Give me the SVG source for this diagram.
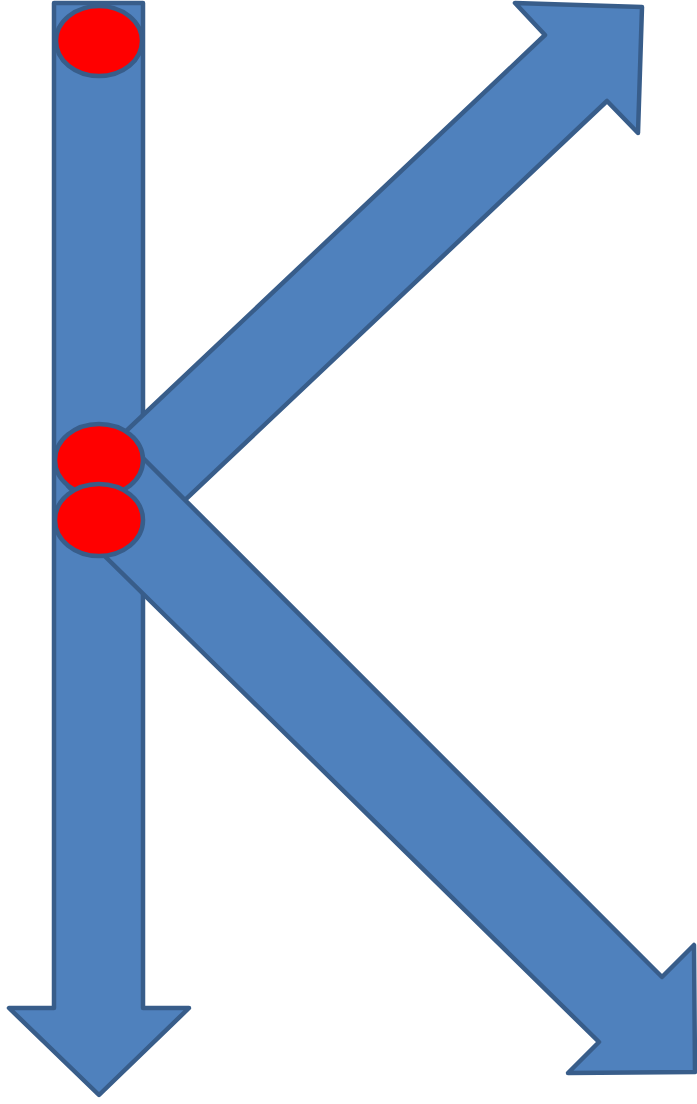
<svg xmlns="http://www.w3.org/2000/svg" width="697" height="1104" viewBox="0 0 697 1104">
  <style>
    .arrow { fill: #4f81bd; stroke: #385d8a; stroke-width: 4.5; stroke-linejoin: round; }
    .dot { fill: #ff0000; stroke: #385d8a; stroke-width: 4.5; }
  </style>
  <rect width="697" height="1104" fill="#ffffff"/>
  <g id="connectors">
    <polygon id="arrow-down" class="arrow" points="54,3 143,3 143,1008 189,1008 99,1095 9,1008 54,1008"/>
    <polygon id="arrow-up-right" class="arrow" points="68,486 545,35 515,3 642,7 638,133 607,101 130,552"/>
    <polygon id="arrow-down-right" class="arrow" points="130,445 662,977 694,945 695,1072 568,1073 599,1042 66,518"/>
  </g>
  <g id="node-top"><ellipse class="dot" cx="99" cy="41" rx="43" ry="35"/></g>
  <g id="node-mid"><ellipse class="dot" cx="99" cy="460" rx="44" ry="36"/></g>
  <g id="node-low"><ellipse class="dot" cx="99" cy="520" rx="44" ry="36"/></g>
</svg>
